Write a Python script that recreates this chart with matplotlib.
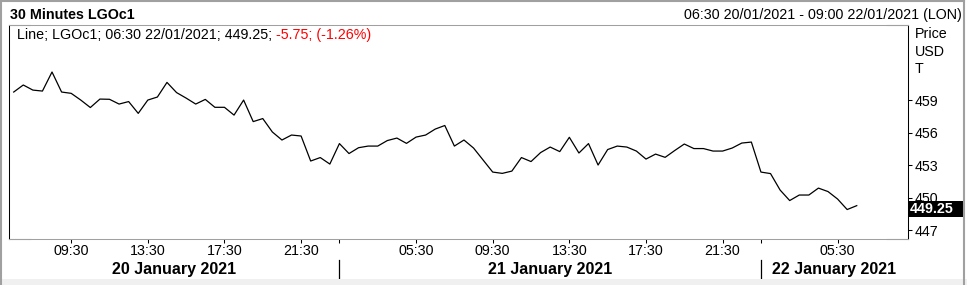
import numpy as np
import pandas as pd
import matplotlib
matplotlib.use("Agg")
import matplotlib.pyplot as plt
from matplotlib.transforms import blended_transform_factory
from matplotlib.patches import Rectangle
from matplotlib.lines import Line2D

plt.rcParams['font.family'] = ['Liberation Sans', 'DejaVu Sans']

# ---------------- data ----------------
sessions = [("2021-01-20 06:30", "2021-01-20 22:30"),
            ("2021-01-21 01:00", "2021-01-21 22:30"),
            ("2021-01-22 01:00", "2021-01-22 06:30")]

prices = [459.74, 460.39, 459.92, 459.83, 461.59, 459.74, 459.62, 459.00, 458.31, 459.09,
          459.07, 458.63, 458.86, 457.77, 459.00, 459.28, 460.63, 459.69, 459.18, 458.63,
          459.06, 458.33, 458.33, 457.61, 459.00, 457.01, 457.29, 456.05, 455.31, 455.77,
          455.68, 453.37, 453.69, 453.09, 454.98, 454.06, 454.60, 454.75, 454.75, 455.26,
          455.49, 455.00, 455.58, 455.77, 456.32, 456.65, 454.75, 455.31, 454.57, 453.46,
          452.35, 452.23, 452.44, 453.69, 453.32, 454.15, 454.66, 454.24, 455.56, 454.11,
          454.98, 453.00, 454.43, 454.75, 454.66, 454.29, 453.55, 454.01, 453.71, 454.34,
          454.94, 454.52, 454.52, 454.29, 454.29, 454.57, 455.03, 455.12, 452.35, 452.21,
          450.69, 449.72, 450.23, 450.23, 450.87, 450.55, 449.86, 448.89, 449.25]

time_tick_labels = ["09:30", "13:30", "17:30", "21:30", "05:30"]
day_labels = ["20 January 2021", "21 January 2021", "22 January 2021"]
price_ticks = [447, 450, 453, 456, 459]
last_value_label = "449.25"
title = "30 Minutes LGOc1"
range_text = "06:30 20/01/2021 - 09:00 22/01/2021 (LON)"
legend_black = "Line; LGOc1; 06:30 22/01/2021; 449.25;"
legend_red = " -5.75; (-1.26%)"
unit_labels = ["Price", "USD", "T"]

# -------------- derived ----------------
bar_times = pd.DatetimeIndex(np.concatenate(
    [pd.date_range(s, e, freq="30min").values for s, e in sessions]))
idx = np.arange(len(bar_times))
hhmm = bar_times.strftime("%H:%M")
tick_pos = [i for i in idx if hhmm[i] in time_tick_labels]
tick_lab = [hhmm[i] for i in tick_pos]
day_first = [i for i in idx[1:] if bar_times[i].date() != bar_times[i - 1].date()]
day_bounds = [i + 1 for i in day_first]

W, H = 967, 285
fig = plt.figure(figsize=(W / 100, H / 100), dpi=100)
fx = lambda x: x / W
fy = lambda y: 1 - y / H

ax_l, ax_r, ax_t, ax_b = 9, 908, 25, 239
ax = fig.add_axes([fx(ax_l), fy(ax_b), (ax_r - ax_l) / W, (ax_b - ax_t) / H])
ax.plot(idx, prices, color="black", lw=0.9, solid_joinstyle="round")

FS = 10.3
xlim = (-0.49, len(idx) - 1 + 5.35)
ax.set_xlim(*xlim)
ax.set_ylim(446.17, 465.93)

# spines
for s in ["top", "bottom"]:
    ax.spines[s].set_color("#a0a0a0")
    ax.spines[s].set_linewidth(0.75)
for s in ["left", "right"]:
    ax.spines[s].set_color("black")
    ax.spines[s].set_linewidth(0.75)
cw = 21 / (ax_r - ax_l)
for xs, yv in [((0, cw), 1), ((0, cw), 0), ((1 - cw, 1), 1), ((1 - cw, 1), 0)]:
    ax.plot(xs, [yv, yv], transform=ax.transAxes, color="black", lw=0.75, clip_on=False)

# y axis on right
ax.yaxis.tick_right()
ax.set_yticks(price_ticks)
ax.set_yticklabels([str(v) for v in price_ticks])
ax.tick_params(axis="y", direction="out", length=2.9, width=0.75, pad=2, labelsize=FS,
               colors="black")

# x axis
ax.set_xticks(list(tick_pos) + day_bounds)
ax.set_xticklabels(tick_lab + [""] * len(day_bounds))
ax.tick_params(axis="x", direction="out", length=2.9, width=0.75, pad=0.5, labelsize=FS)

tr = blended_transform_factory(ax.transData, ax.transAxes)
ph = ax_b - ax_t
for b in day_bounds:
    ax.plot([b, b], [-(260 - ax_b) / ph, -(278 - ax_b) / ph], transform=tr,
            color="black", lw=0.9, clip_on=False)
edges = [xlim[0]] + day_bounds + [xlim[1]]
for k, lab in enumerate(day_labels):
    ax.text((edges[k] + edges[k + 1]) / 2, -(274.3 - ax_b) / ph, lab, transform=tr,
            ha="center", va="baseline", fontsize=11.5, fontweight="bold")

# last value box
trb = blended_transform_factory(ax.transAxes, ax.transData)
ppu = (230 - 100) / 12.0
box_h = 16 / ppu
box_c = prices[-1] - 3 / ppu
ax.add_patch(Rectangle((1.0, box_c - box_h / 2), 55 / (ax_r - ax_l), box_h, transform=trb,
                       facecolor="black", edgecolor="none", clip_on=False, zorder=5))
ax.text(1.0 + 1.5 / (ax_r - ax_l), box_c, last_value_label, transform=trb, color="white",
        fontweight="bold", fontsize=FS, ha="left", va="center", zorder=6, clip_on=False)

# header texts
fig.text(fx(10), fy(19.3), title, fontweight="bold", fontsize=FS, va="baseline", ha="left")
fig.text(fx(962), fy(18.8), range_text, fontsize=FS, va="baseline", ha="right")
t1 = fig.text(fx(17), fy(39.3), legend_black, fontsize=FS, va="baseline", ha="left")
ax.annotate(legend_red, xy=(1, 0), xycoords=t1, va="bottom", ha="left",
            fontsize=FS, color="#ff0000", annotation_clip=False)
for lab, yb in zip(unit_labels, [38.3, 56.0, 73.3]):
    fig.text(fx(915), fy(yb), lab, fontsize=FS, va="baseline", ha="left")

# outer frame
fig.add_artist(Rectangle((0, 0), 1, (H - 279) / H, transform=fig.transFigure,
                         facecolor="#f0f0f0", edgecolor="none"))
for xs, ys in [((0, fx(964)), (fy(0.5), fy(0.5))),
               ((fx(1), fx(1)), (0, 1)),
               ((fx(963.5), fx(963.5)), (0, 1))]:
    fig.add_artist(Line2D(xs, ys, transform=fig.transFigure, color="#a0a0a0", lw=1.5))

fig.savefig("out.png", dpi=100, facecolor="white")
